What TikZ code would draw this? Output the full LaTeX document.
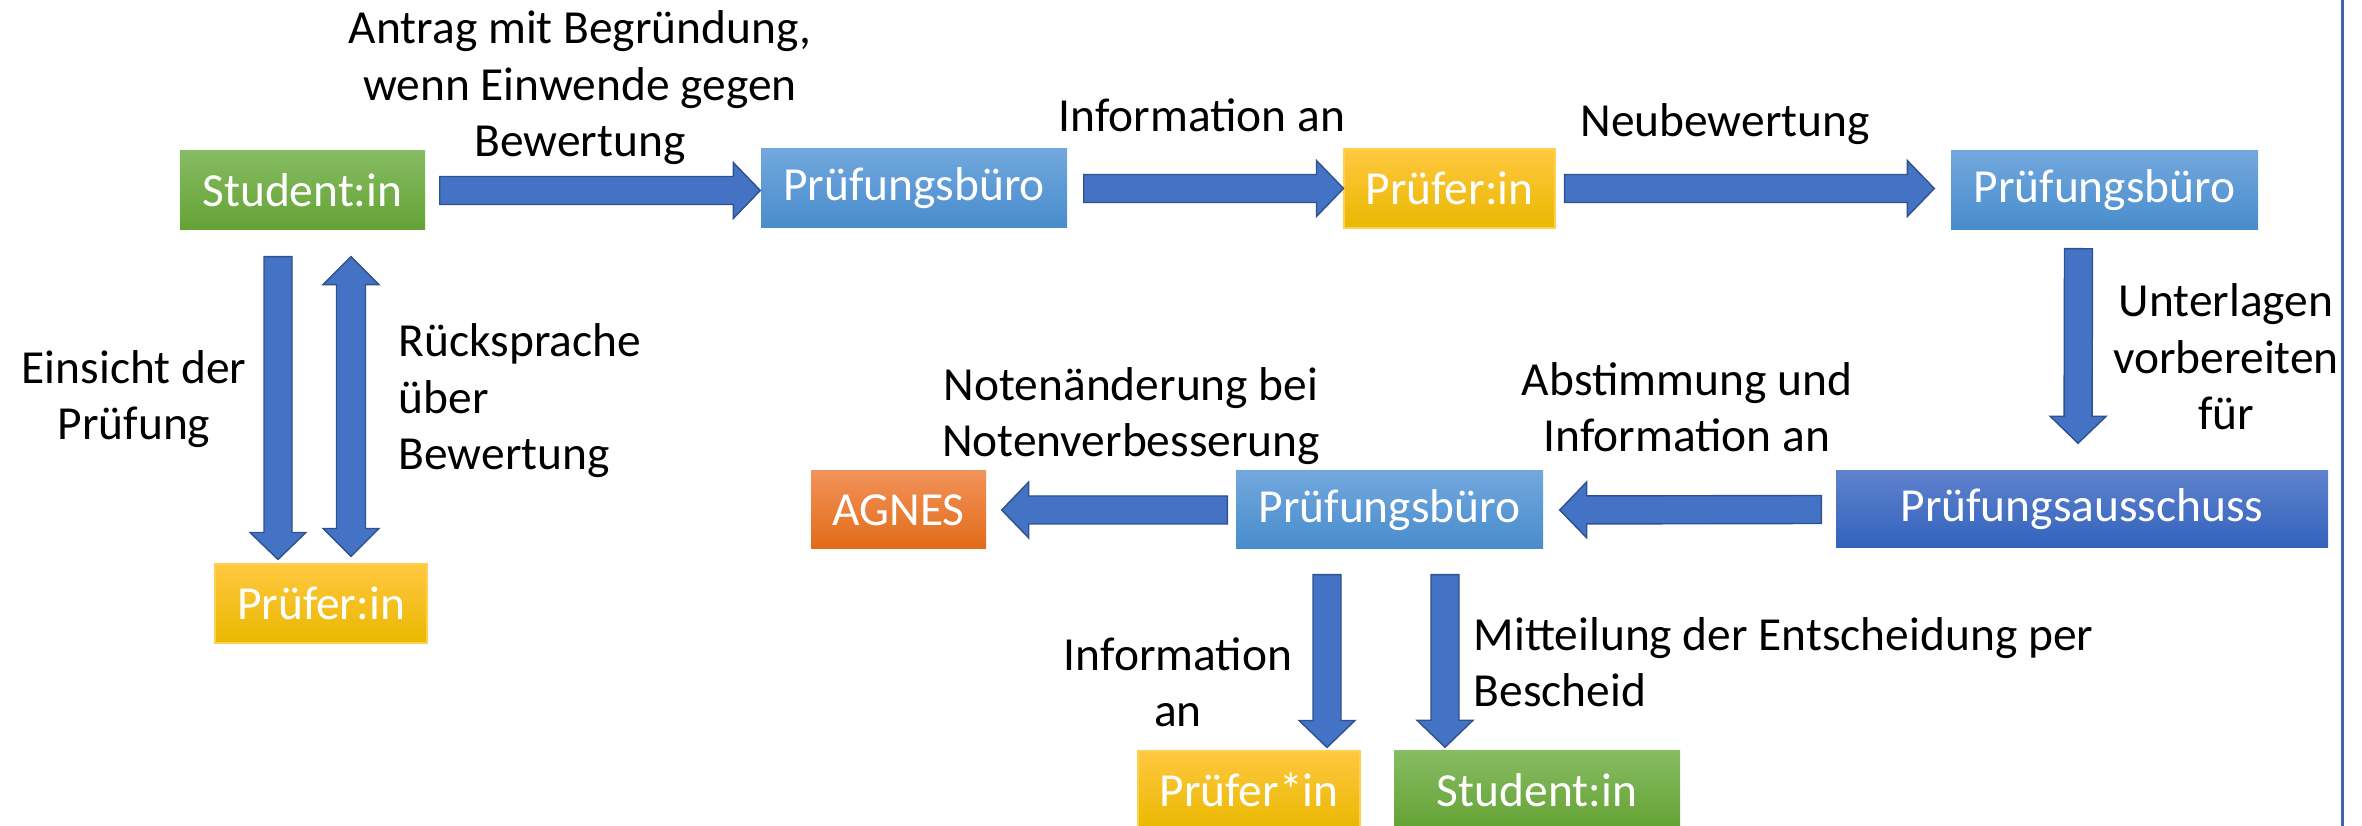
\documentclass[tikz,border=0pt]{standalone}
\usepackage{fontspec}
\setmainfont{Carlito}
\usetikzlibrary{calc,positioning}

\definecolor{arrowfill}{RGB}{68,114,196}
\definecolor{arrowedge}{RGB}{47,82,143}
\definecolor{frameline}{RGB}{63,100,168}

\tikzset{
  box/.style={minimum height=7.9mm, inner sep=0pt, text=white, font=\fontsize{13.5}{16.2}\selectfont},
  greenbox/.style={box, top color={rgb,255:red,134;green,188;blue,98}, middle color={rgb,255:red,112;green,173;blue,71}, bottom color={rgb,255:red,100;green,162;blue,52}},
  bluebox/.style={box, top color={rgb,255:red,114;green,168;blue,222}, middle color={rgb,255:red,91;green,155;blue,213}, bottom color={rgb,255:red,72;green,140;blue,204}},
  goldbox/.style={box, draw={rgb,255:red,255;green,208;blue,80}, line width=0.3pt, top color={rgb,255:red,255;green,200;blue,64}, middle color={rgb,255:red,255;green,192;blue,0}, bottom color={rgb,255:red,233;green,184;blue,0}},
  orangebox/.style={box, top color={rgb,255:red,242;green,146;blue,90}, middle color={rgb,255:red,237;green,125;blue,49}, bottom color={rgb,255:red,225;green,108;blue,25}},
  darkbox/.style={box, top color={rgb,255:red,95;green,130;blue,205}, middle color={rgb,255:red,68;green,114;blue,196}, bottom color={rgb,255:red,50;green,98;blue,188}},
  lbl/.style={inner sep=0pt, align=center, font=\fontsize{13.5}{16.2}\selectfont},
  blockarrow/.style={draw=arrowedge, fill=arrowfill, line width=0.4pt,
    to path={let \p1=(\tikztostart), \p2=(\tikztotarget), \n1={atan2(\y2-\y1,\x2-\x1)} in
      ($(\p1)+(\n1+90:1.4mm)$) -- ($(\p2)+(\n1:-2.7mm)+(\n1+90:1.4mm)$) -- ($(\p2)+(\n1:-2.7mm)+(\n1+90:2.8mm)$) -- (\p2)
      -- ($(\p2)+(\n1:-2.7mm)+(\n1-90:2.8mm)$) -- ($(\p2)+(\n1:-2.7mm)+(\n1-90:1.4mm)$) -- ($(\p1)+(\n1-90:1.4mm)$) -- cycle}},
  doublearrow/.style={draw=arrowedge, fill=arrowfill, line width=0.4pt,
    to path={let \p1=(\tikztostart), \p2=(\tikztotarget), \n1={atan2(\y2-\y1,\x2-\x1)} in
      (\p1) -- ($(\p1)+(\n1:2.8mm)+(\n1+90:2.8mm)$) -- ($(\p1)+(\n1:2.8mm)+(\n1+90:1.45mm)$)
      -- ($(\p2)+(\n1:-2.8mm)+(\n1+90:1.45mm)$) -- ($(\p2)+(\n1:-2.8mm)+(\n1+90:2.8mm)$) -- (\p2)
      -- ($(\p2)+(\n1:-2.8mm)+(\n1-90:2.8mm)$) -- ($(\p2)+(\n1:-2.8mm)+(\n1-90:1.45mm)$)
      -- ($(\p1)+(\n1:2.8mm)+(\n1-90:1.45mm)$) -- ($(\p1)+(\n1:2.8mm)+(\n1-90:2.8mm)$) -- cycle}}
}

\begin{document}
\begin{tikzpicture}[x=0.1mm, y=-0.1mm]
 \useasboundingbox (0,0) rectangle (2362,826);

 % boxes
 \node[greenbox, minimum width=24.5mm] (stud1) at (302.5,190.5) {Student:in};
 \node[bluebox, minimum width=30.6mm] (pb1) at (914,188.5) {Prüfungsbüro};
 \node[goldbox, minimum width=21.1mm] (pruef1) at (1449.5,188.5) {Prüfer:in};
 \node[bluebox, minimum width=30.7mm] (pb2) at (2104.5,190.5) {Prüfungsbüro};
 \node[darkbox, minimum width=49.2mm, minimum height=7.7mm] (ausschuss) at (2082,509.5) {Prüfungsausschuss};
 \node[bluebox, minimum width=30.7mm, minimum height=7.8mm] (pb3) at (1389.5,510) {Prüfungsbüro};
 \node[orangebox, minimum width=17.5mm, minimum height=7.8mm] (agnes) at (898.5,510) {AGNES};
 \node[goldbox, minimum width=21.2mm] (pruef2) at (321,603.5) {Prüfer:in};
 \node[goldbox, minimum width=22.2mm, minimum height=7.8mm] (pruefstar) at (1249,790) {Prüfer*in};
 \node[greenbox, minimum width=28.6mm, minimum height=7.8mm] (stud2) at (1537,790) {Student:in};

 % arrows
 \draw[blockarrow] ($(stud1.east)+(1.4mm,0)$) to (stud1.east -| pb1.west);
 \draw[blockarrow] ($(pb1.east)+(1.6mm,0)$) to (pruef1.west);
 \draw[blockarrow] ($(pruef1.east)+(0.9mm,0)$) to ($(pruef1.east -| pb2.west)+(-1.6mm,0)$);
 \draw[blockarrow] ($(pb2.south)+(-2.6mm,-1.8mm)$) to ($(ausschuss.north)+(-0.4mm,2.7mm)$);
 \draw[blockarrow] ($(ausschuss.west)+(-1.4mm,0)$) to ($(pb3.east)+(1.6mm,0)$);
 \draw[blockarrow] ($(pb3.west)+(-0.8mm,0)$) to ($(agnes.east)+(1.5mm,0)$);
 \draw[blockarrow] ($(stud1.south)+(-2.45mm,-2.6mm)$) to ($(pruef2.north)+(-4.3mm,0.4mm)$);
 \draw[doublearrow] ($(stud1.south)+(4.85mm,-2.6mm)$) to ($(pruef2.north)+(3mm,0.7mm)$);
 \draw[blockarrow] ($(pb3.south)+(-6.25mm,-2.5mm)$) to ($(pruefstar.north)+(7.8mm,0.3mm)$);
 \draw[blockarrow] ($(pb3.south)+(5.55mm,-2.5mm)$) to ($(stud2.north)+(-9.2mm,0.3mm)$);

 % labels (base = last line)
 \node[lbl, anchor=base] (l1) at (580,157) {Antrag mit Begründung,\\wenn Einwende gegen\\Bewertung};
 \node[lbl, anchor=base] (l2) at (1202,132) {Information an};
 \node[lbl, anchor=base] (l3) at (1725,137) {Neubewertung};
 \node[lbl, anchor=base] (l4) at (2226,430) {Unterlagen\\vorbereiten\\für};
 \node[lbl, anchor=base] (l5) at (1687,452) {Abstimmung und\\Information an};
 \node[lbl, anchor=base] (l6) at (1131,457) {Notenänderung bei\\Notenverbesserung};
 \node[lbl, anchor=base] (l7) at (134,440) {Einsicht der\\Prüfung};
 \node[lbl, anchor=base west, align=left] (l8) at (398,470) {Rücksprache\\über\\Bewertung};
 \node[lbl, anchor=base] (l9) at (1178,727) {Information\\an};
 \node[lbl, anchor=base west, align=left] (l10) at (1473,707) {Mitteilung der Entscheidung per\\Bescheid};

 % frame edge
 \draw[frameline, line width=0.3mm] (2342,0) -- (2342,826);
\end{tikzpicture}
\end{document}
